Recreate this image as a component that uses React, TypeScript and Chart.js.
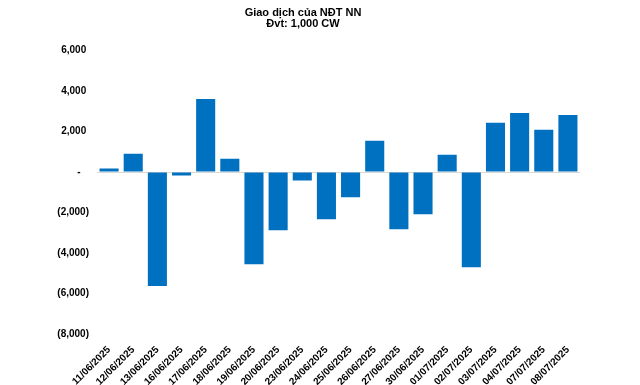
import React, { useEffect, useRef } from "react";
import { Chart, registerables } from "chart.js";

Chart.register(...registerables);

const categories = [
  "11/06/2025", "12/06/2025", "13/06/2025", "16/06/2025", "17/06/2025",
  "18/06/2025", "19/06/2025", "20/06/2025", "23/06/2025", "24/06/2025",
  "25/06/2025", "26/06/2025", "27/06/2025", "30/06/2025", "01/07/2025",
  "02/07/2025", "03/07/2025", "04/07/2025", "07/07/2025", "08/07/2025",
];

const netValues = [
  170, 900, -5630, -170, 3610,
  650, -4550, -2875, -415, -2335,
  -1250, 1540, -2830, -2090, 850,
  -4700, 2430, 2920, 2085, 2820,
];

const titleLines = ["Giao dịch của NĐT NN", "Đvt: 1,000 CW"];

const yMin = -8000;
const yMax = 6000;
const yStep = 2000;

function fmtTick(v: number): string {
  if (v === 0) return "-   ";
  const s = Math.abs(v).toLocaleString("en-US");
  return v < 0 ? `(${s})` : `${s} `;
}

export default function App() {
  const ref = useRef<HTMLCanvasElement | null>(null);

  useEffect(() => {
    if (!ref.current) return;
    const font = "'Liberation Sans', Arial, sans-serif";
    const chart = new Chart(ref.current, {
      type: "bar",
      data: {
        labels: categories,
        datasets: [
          {
            data: netValues,
            backgroundColor: "#0070C0",
            borderWidth: 0,
            categoryPercentage: 1,
            barPercentage: 0.79,
          },
        ],
      },
      options: {
        animation: false,
        responsive: false,
        maintainAspectRatio: false,
        layout: { padding: { left: 26, right: 60, top: 0, bottom: 0 } },
        plugins: {
          legend: { display: false },
          tooltip: { enabled: false },
          title: {
            display: true,
            text: titleLines,
            color: "#000",
            font: { family: font, size: 11, weight: "bold", lineHeight: 0.98 },
            padding: { top: 7.5, bottom: 21.5 },
          },
        },
        scales: {
          x: {
            grid: { display: false },
            border: { display: false },
            ticks: {
              autoSkip: false,
              maxRotation: 45,
              minRotation: 45,
              color: "#000",
              padding: 2,
              font: { family: font, size: 10, weight: "bold" },
            },
            afterFit: (axis: any) => {
              axis.height = 51;
            },
          },
          y: {
            min: yMin,
            max: yMax,
            grid: {
              drawTicks: false,
              color: (ctx: any) => (ctx.tick && ctx.tick.value === 0 ? "#d9d9d9" : "rgba(0,0,0,0)"),
              lineWidth: 1,
            },
            border: { display: false },
            ticks: {
              stepSize: yStep,
              padding: 8,
              color: "#000",
              font: { family: font, size: 10, weight: "bold" },
              callback: (v: any) => fmtTick(Number(v)),
            },
            afterFit: (axis: any) => {
              axis.width = 71;
            },
          },
        },
      },
    });
    return () => chart.destroy();
  }, []);

  return (
    <div style={{ position: "absolute", left: 0, top: 0, width: 640, height: 385, background: "#fff" }}>
      <canvas ref={ref} width={640} height={385} style={{ display: "block" }} />
    </div>
  );
}
